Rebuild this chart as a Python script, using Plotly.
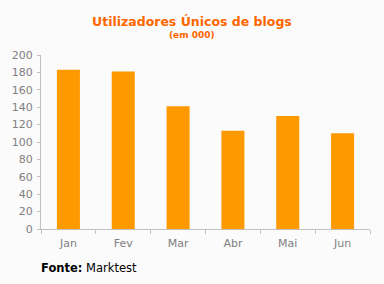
import plotly.graph_objects as go

months = ["Jan", "Fev", "Mar", "Abr", "Mai", "Jun"]
values = [183, 181, 141, 113, 130, 110]

fig = go.Figure(go.Bar(x=months, y=values, marker_color="#ff9900", marker_line_width=0))

fig.update_layout(
    width=384, height=284,
    paper_bgcolor="#fbfbfb", plot_bgcolor="#fbfbfb",
    margin=dict(l=37, r=14, t=55, b=55),
    bargap=0.58,
    showlegend=False,
    font=dict(family="DejaVu Sans", size=11, color="#808080"),
)
fig.update_xaxes(
    showline=True, linecolor="#c0c0c0", linewidth=1,
    ticks="outside", tickson="boundaries", ticklen=4, tickcolor="#c0c0c0",
    ticklabelstandoff=4,
    showgrid=False, tickfont=dict(size=11, color="#808080"),
)
fig.update_yaxes(
    range=[0, 200], dtick=20, showline=True, linecolor="#c0c0c0", linewidth=1,
    ticks="outside", ticklen=3, tickcolor="#c0c0c0", showgrid=False, zeroline=False,
    ticklabelstandoff=2,
    tickfont=dict(size=11, color="#808080"),
)
fig.add_annotation(text="<b>Utilizadores Únicos de blogs</b>", xref="paper", yref="paper",
                   x=0.46, y=1.0, xanchor="center", yanchor="bottom", yshift=24, showarrow=False,
                   font=dict(size=12.5, color="#ff6600", family="DejaVu Sans"))
fig.add_annotation(text="<b>(em 000)</b>", xref="paper", yref="paper",
                   x=0.46, y=1.0, xanchor="center", yanchor="bottom", yshift=13, showarrow=False,
                   font=dict(size=9, color="#ff6600", family="DejaVu Sans"))
fig.add_annotation(text="<b>Fonte:</b> Marktest", xref="paper", yref="paper",
                   x=0, y=0, xanchor="left", yanchor="middle", xshift=-2, yshift=-39, showarrow=False,
                   font=dict(size=11.5, color="#000000", family="DejaVu Sans"))
fig.write_html("out.html")
